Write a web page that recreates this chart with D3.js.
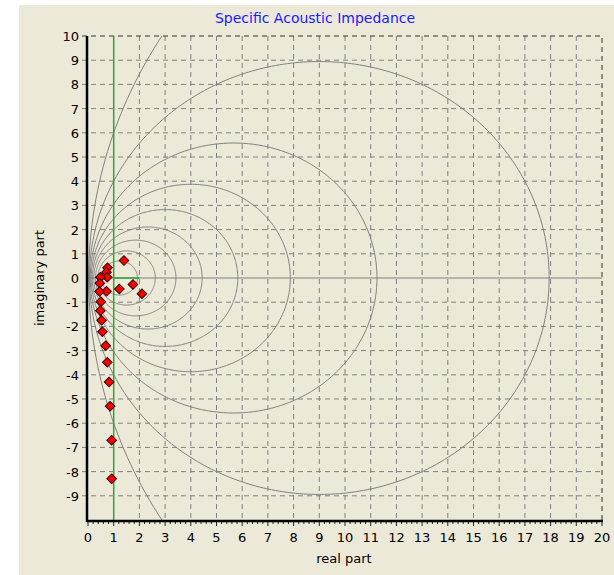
<!DOCTYPE html>
<html>
<head>
<meta charset="utf-8">
<script src="https://cdn.jsdelivr.net/npm/d3@7"></script>
<style>
  body { margin: 0; background: #fff; }
  text { font-family: "DejaVu Sans", sans-serif; }
</style>
</head>
<body>
<div id="chart"></div>
<script>
// measured impedance points (real / imaginary part)
const realPart = [1.40, 0.76, 0.72, 0.75, 0.48, 0.46, 0.72, 0.45, 1.22, 1.75, 2.10, 0.50, 0.48, 0.53, 0.56, 0.69, 0.75, 0.82, 0.86, 0.92, 0.92];
const imagPart = [0.72, 0.42, 0.24, 0.03, 0.03, -0.22, -0.55, -0.56, -0.45, -0.27, -0.65, -0.98, -1.35, -1.75, -2.22, -2.80, -3.48, -4.30, -5.30, -6.70, -8.30];
// constant absorption coefficient circles
const alphaLevels = [0.1, 0.2, 0.3, 0.4, 0.5, 0.6, 0.7, 0.8, 0.9];
const xTicks = d3.range(0, 21);
const yTicks = d3.range(-9, 11);

const width = 614;
const height = 575;
const plot = { left: 88, right: 602, top: 36, bottom: 520 };

const svg = d3.select('#chart')
  .append('svg')
  .attr('width', width)
  .attr('height', height);

svg.append('rect')
  .attr('x', 19).attr('y', 5)
  .attr('width', width - 19).attr('height', height - 5)
  .attr('fill', '#ECE9D8');

const fx = d3.scaleLinear().domain([0, 20]).range([plot.left, plot.right]);
const fy = d3.scaleLinear().domain([-10, 10]).range([plot.bottom, plot.top]);

svg.append('defs').append('clipPath')
  .attr('id', 'clip')
  .append('rect')
  .attr('x', plot.left).attr('y', plot.top)
  .attr('width', plot.right - plot.left).attr('height', plot.bottom - plot.top);

// grid
const grid = svg.append('g');
grid.selectAll('.vgrid')
  .data(xTicks.filter(d => d > 1 && d < 20))
  .join('line')
  .attr('class', 'vgrid')
  .attr('x1', d => fx(d)).attr('x2', d => fx(d))
  .attr('y1', plot.top).attr('y2', plot.bottom)
  .attr('stroke', '#808080')
  .attr('stroke-dasharray', '5,4');

grid.selectAll('.hgrid')
  .data(yTicks.filter(d => d !== 0 && d < 10))
  .join('line')
  .attr('class', 'hgrid')
  .attr('x1', plot.left - 6).attr('x2', plot.right)
  .attr('y1', d => fy(d)).attr('y2', d => fy(d))
  .attr('stroke', '#808080')
  .attr('stroke-dasharray', '5,4');

// top and right border
svg.append('path')
  .attr('d', `M${plot.left - 6},${plot.top}H${plot.right}V${plot.bottom}`)
  .attr('fill', 'none')
  .attr('stroke', '#333')
  .attr('stroke-dasharray', '5,4');

// zero line
svg.append('line')
  .attr('x1', plot.left).attr('x2', plot.right)
  .attr('y1', fy(0)).attr('y2', fy(0))
  .attr('stroke', '#808080');

// alpha circles
const circleLine = d3.line()
  .x(d => fx(d[0]))
  .y(d => fy(d[1]));

const angles = d3.range(0, 361).map(a => a * Math.PI / 180);

svg.append('g')
  .attr('clip-path', 'url(#clip)')
  .selectAll('path')
  .data(alphaLevels)
  .join('path')
  .attr('d', a => {
    const c = 2 / a - 1;
    const r = Math.sqrt(c * c - 1);
    return circleLine(angles.map(t => [c + r * Math.cos(t), r * Math.sin(t)]));
  })
  .attr('fill', 'none')
  .attr('stroke', '#808080')
  .attr('stroke-width', 1);

// green reference lines
svg.append('line')
  .attr('x1', fx(1)).attr('x2', fx(1))
  .attr('y1', plot.top).attr('y2', plot.bottom)
  .attr('stroke', '#2ea82e')
  .attr('stroke-width', 1.5);

svg.append('line')
  .attr('x1', fx(1)).attr('x2', fx(2))
  .attr('y1', fy(0)).attr('y2', fy(0))
  .attr('stroke', '#2ea82e')
  .attr('stroke-width', 1.5);

// axes
const xAxis = svg.append('g');
xAxis.selectAll('.minor')
  .data(d3.range(0, 100.5).map(i => i / 5))
  .join('line')
  .attr('class', 'minor')
  .attr('x1', d => fx(d)).attr('x2', d => fx(d))
  .attr('y1', plot.bottom).attr('y2', d => plot.bottom + (Number.isInteger(d) ? 6 : 4))
  .attr('stroke', '#222');

xAxis.append('line')
  .attr('x1', plot.left - 1).attr('x2', plot.right + 1)
  .attr('y1', plot.bottom + 1).attr('y2', plot.bottom + 1)
  .attr('stroke', '#000')
  .attr('stroke-width', 2.5);

xAxis.selectAll('text')
  .data(xTicks)
  .join('text')
  .attr('x', d => fx(d))
  .attr('y', plot.bottom + 22)
  .attr('text-anchor', 'middle')
  .attr('font-size', 13)
  .attr('fill', '#000')
  .text(d => d);

const yAxis = svg.append('g');
yAxis.append('line')
  .attr('x1', plot.left - 1).attr('x2', plot.left - 1)
  .attr('y1', plot.top).attr('y2', plot.bottom + 2)
  .attr('stroke', '#000')
  .attr('stroke-width', 2.5);

yAxis.selectAll('text')
  .data(yTicks)
  .join('text')
  .attr('x', plot.left - 9)
  .attr('y', d => fy(d) + 5)
  .attr('text-anchor', 'end')
  .attr('font-size', 13)
  .attr('fill', '#000')
  .text(d => d);

// data points
svg.append('g')
  .selectAll('path')
  .data(realPart.map((d, i) => [d, imagPart[i]]))
  .join('path')
  .attr('d', d3.symbol().type(d3.symbolSquare).size(46))
  .attr('transform', d => `translate(${fx(d[0])},${fy(d[1])}) rotate(45)`)
  .attr('fill', '#ff0000')
  .attr('stroke', '#300000')
  .attr('stroke-width', 1);

// titles
svg.append('text')
  .attr('x', 315)
  .attr('y', 23)
  .attr('text-anchor', 'middle')
  .attr('font-size', 14)
  .attr('fill', '#1a1aff')
  .text('Specific Acoustic Impedance');

svg.append('text')
  .attr('x', 344)
  .attr('y', 563)
  .attr('text-anchor', 'middle')
  .attr('font-size', 13)
  .attr('fill', '#000')
  .text('real part');

svg.append('text')
  .attr('transform', `translate(44, ${fy(0)}) rotate(-90)`)
  .attr('text-anchor', 'middle')
  .attr('font-size', 13)
  .attr('fill', '#000')
  .text('imaginary part');
</script>
</body>
</html>
